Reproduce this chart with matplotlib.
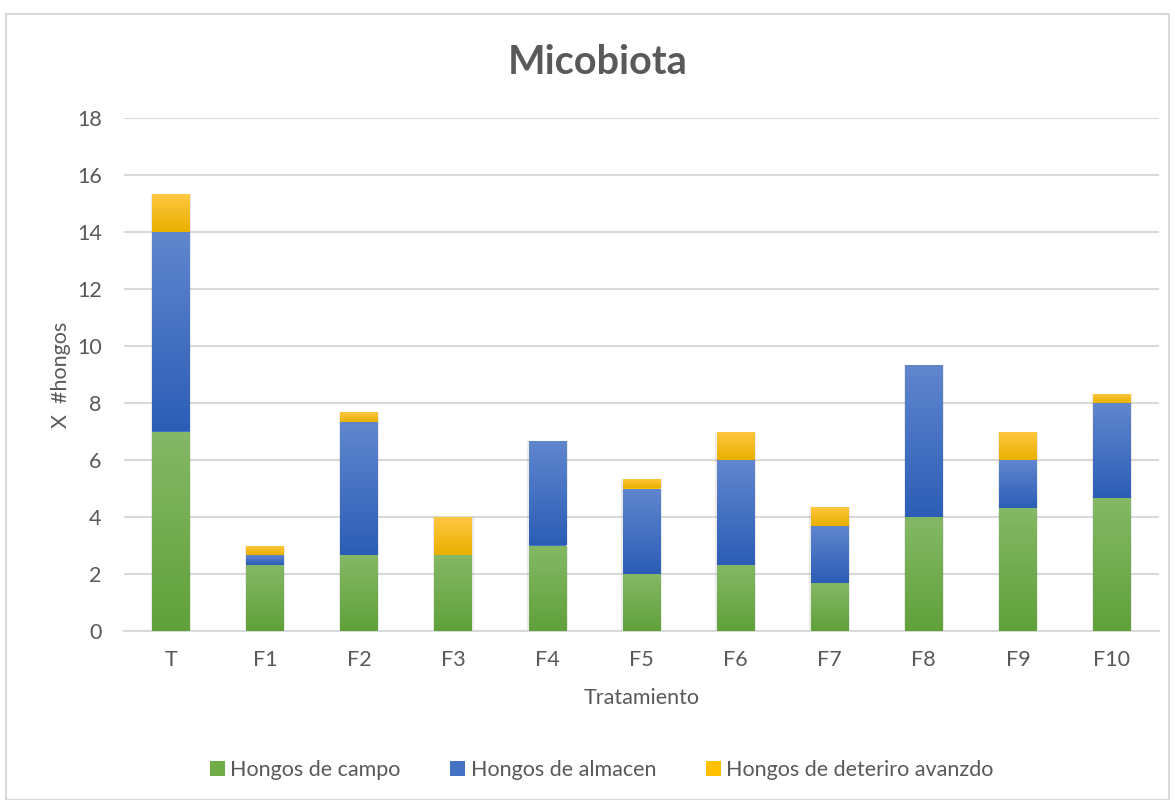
#!/usr/bin/env python3

import matplotlib

matplotlib.use("Agg")
import matplotlib.pyplot as plt
import numpy as np
from matplotlib.colors import LinearSegmentedColormap
from matplotlib.patches import Patch, Rectangle

# Data
treatments = ["T", "F1", "F2", "F3", "F4", "F5", "F6", "F7", "F8", "F9", "F10"]
hongos_campo = [7, 2.33, 2.67, 2.67, 3, 2, 2.33, 1.67, 4, 4.33, 4.67]
hongos_almacen = [7, 0.33, 4.67, 0, 3.67, 3, 3.67, 2, 5.33, 1.67, 3.33]
hongos_deterioro = [1.33, 0.33, 0.33, 1.33, 0, 0.33, 1, 0.67, 0, 1, 0.33]
series_names = [
    "Hongos de campo",
    "Hongos de almacen",
    "Hongos de deteriro avanzdo",
]
y_ticks = [0, 2, 4, 6, 8, 10, 12, 14, 16, 18]

TEXT = "#595959"
GRID = "#D9D9D9"
# (top colour, bottom colour, legend colour) per series
COLORS = [
    ("#85B866", "#60A13A", "#70AD47"),
    ("#6087CE", "#2C5DB6", "#4472C4"),
    ("#FFC740", "#E9B000", "#FFC000"),
]

plt.rcParams["font.family"] = ["Lato", "DejaVu Sans"]


def gradient_bars(ax, bars, top, bottom):
    """Lay a vertical gradient over each bar."""
    cmap = LinearSegmentedColormap.from_list("grad", [bottom, top])
    grad = np.linspace(0, 1, 128).reshape(-1, 1)
    for bar in bars:
        x0, y0 = bar.get_xy()
        w, h = bar.get_width(), bar.get_height()
        if h <= 0:
            continue
        im = ax.imshow(
            grad,
            extent=[x0, x0 + w, y0, y0 + h],
            origin="lower",
            cmap=cmap,
            aspect="auto",
            interpolation="bilinear",
            zorder=4,
        )
        im.set_clip_path(bar)


fig = plt.figure(figsize=(11.75, 8), dpi=100)
ax = fig.add_axes([0.1055, 0.21125, 0.8809, 0.64125])

# chart border
fig.patches.append(
    Rectangle(
        (0.005, 0.0), 0.99, 0.983,
        transform=fig.transFigure, fill=False, edgecolor=GRID, linewidth=1.5,
    )
)

x = np.arange(len(treatments))
width = 0.4
bottom = np.zeros(len(treatments))
for values, (top_c, bot_c, mid_c) in zip(
    [hongos_campo, hongos_almacen, hongos_deterioro], COLORS
):
    bars = ax.bar(x, values, width, bottom=bottom, color=mid_c,
                  linewidth=0, zorder=3)
    gradient_bars(ax, bars, top_c, bot_c)
    bottom += np.array(values)

# soft shadow behind each stack
ax.bar(x, bottom, width + 0.03, color="#000000", alpha=0.08,
       linewidth=0, zorder=2)

ax.set_xlim(-0.5, len(treatments) - 0.5)
ax.set_ylim(0, 18)
ax.set_yticks(y_ticks)
ax.set_xticks(x)
ax.set_xticklabels(treatments)
ax.grid(axis="y", color=GRID, linewidth=1.5, zorder=0)
ax.set_axisbelow(True)
for side in ["top", "right", "left"]:
    ax.spines[side].set_visible(False)
ax.spines["bottom"].set_color(GRID)
ax.spines["bottom"].set_linewidth(1.5)
ax.tick_params(length=0, colors=TEXT, labelsize=15.5)
ax.tick_params(axis="y", pad=16)
ax.tick_params(axis="x", pad=14)

ax.set_xlabel("Tratamiento", color=TEXT, fontsize=15.5, labelpad=13)
ax.set_ylabel("X  #hongos", color=TEXT, fontsize=15.5, labelpad=4)

fig.text(0.5085, 0.9225, "Micobiota", ha="center", va="center",
         fontsize=28.5, fontweight="bold", color=TEXT)

handles = [Patch(facecolor=c[2], edgecolor="none") for c in COLORS]
fig.legend(
    handles, series_names,
    loc="center", bbox_to_anchor=(0.512, 0.0375),
    ncol=3, frameon=False, fontsize=15.5, labelcolor=TEXT,
    handlelength=0.7, handleheight=0.7, handletextpad=0.25, columnspacing=2.3,
)

fig.savefig("out.png", dpi=100)
